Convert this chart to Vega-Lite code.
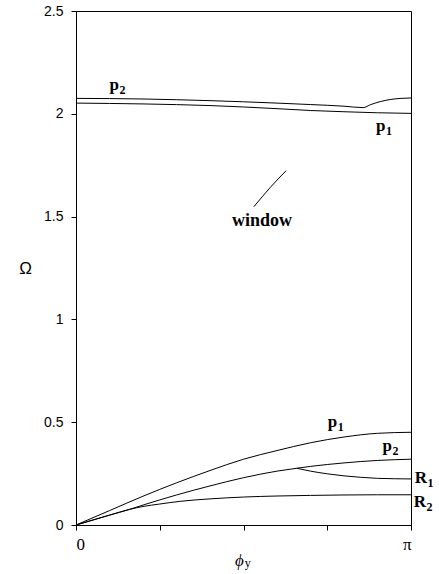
{
  "$schema": "https://vega.github.io/schema/vega-lite/v6.json",
  "width": 335,
  "height": 514,
  "autosize": {"type": "none"},
  "padding": {"left": 76, "top": 11, "right": 28, "bottom": 49},
  "background": "white",
  "config": {
    "view": {"stroke": "black", "strokeWidth": 1},
    "axis": {"grid": false, "domainColor": "black", "tickColor": "black", "labelColor": "black", "titleColor": "black"}
  },
  "datasets": {
    "curves": [
      {"branch": "p1_high", "phi": 0.0, "omega": 2.052},
      {"branch": "p1_high", "phi": 0.2, "omega": 2.048},
      {"branch": "p1_high", "phi": 0.4, "omega": 2.04},
      {"branch": "p1_high", "phi": 0.6, "omega": 2.025},
      {"branch": "p1_high", "phi": 0.7, "omega": 2.016},
      {"branch": "p1_high", "phi": 0.8, "omega": 2.01},
      {"branch": "p1_high", "phi": 0.9, "omega": 2.005},
      {"branch": "p1_high", "phi": 1.0, "omega": 2.002},
      {"branch": "p2_high", "phi": 0.0, "omega": 2.075},
      {"branch": "p2_high", "phi": 0.2, "omega": 2.072},
      {"branch": "p2_high", "phi": 0.4, "omega": 2.064},
      {"branch": "p2_high", "phi": 0.6, "omega": 2.052},
      {"branch": "p2_high", "phi": 0.7, "omega": 2.045},
      {"branch": "p2_high", "phi": 0.8, "omega": 2.037},
      {"branch": "p2_high", "phi": 0.857, "omega": 2.03},
      {"branch": "p2_high", "phi": 0.88, "omega": 2.045},
      {"branch": "p2_high", "phi": 0.91, "omega": 2.06},
      {"branch": "p2_high", "phi": 0.94, "omega": 2.07},
      {"branch": "p2_high", "phi": 0.97, "omega": 2.075},
      {"branch": "p2_high", "phi": 1.0, "omega": 2.077},
      {"branch": "window", "phi": 0.531, "omega": 1.548},
      {"branch": "window", "phi": 0.58, "omega": 1.642},
      {"branch": "window", "phi": 0.627, "omega": 1.723},
      {"branch": "p1", "phi": 0.0, "omega": 0.0},
      {"branch": "p1", "phi": 0.1, "omega": 0.07},
      {"branch": "p1", "phi": 0.2, "omega": 0.14},
      {"branch": "p1", "phi": 0.3, "omega": 0.205},
      {"branch": "p1", "phi": 0.4, "omega": 0.265},
      {"branch": "p1", "phi": 0.5, "omega": 0.32},
      {"branch": "p1", "phi": 0.6, "omega": 0.362},
      {"branch": "p1", "phi": 0.7, "omega": 0.4},
      {"branch": "p1", "phi": 0.8, "omega": 0.428},
      {"branch": "p1", "phi": 0.9, "omega": 0.446},
      {"branch": "p1", "phi": 1.0, "omega": 0.451},
      {"branch": "p2", "phi": 0.0, "omega": 0.0},
      {"branch": "p2", "phi": 0.1, "omega": 0.048},
      {"branch": "p2", "phi": 0.16, "omega": 0.076},
      {"branch": "p2", "phi": 0.2, "omega": 0.097},
      {"branch": "p2", "phi": 0.3, "omega": 0.146},
      {"branch": "p2", "phi": 0.4, "omega": 0.19},
      {"branch": "p2", "phi": 0.5, "omega": 0.23},
      {"branch": "p2", "phi": 0.6, "omega": 0.262},
      {"branch": "p2", "phi": 0.659, "omega": 0.276},
      {"branch": "p2", "phi": 0.7, "omega": 0.285},
      {"branch": "p2", "phi": 0.8, "omega": 0.302},
      {"branch": "p2", "phi": 0.9, "omega": 0.314},
      {"branch": "p2", "phi": 1.0, "omega": 0.32},
      {"branch": "R2", "phi": 0.0, "omega": 0.0},
      {"branch": "R2", "phi": 0.1, "omega": 0.048},
      {"branch": "R2", "phi": 0.16, "omega": 0.076},
      {"branch": "R2", "phi": 0.2, "omega": 0.09},
      {"branch": "R2", "phi": 0.25, "omega": 0.102},
      {"branch": "R2", "phi": 0.31, "omega": 0.115},
      {"branch": "R2", "phi": 0.4, "omega": 0.127},
      {"branch": "R2", "phi": 0.5, "omega": 0.136},
      {"branch": "R2", "phi": 0.6, "omega": 0.141},
      {"branch": "R2", "phi": 0.7, "omega": 0.144},
      {"branch": "R2", "phi": 0.8, "omega": 0.146},
      {"branch": "R2", "phi": 0.9, "omega": 0.147},
      {"branch": "R2", "phi": 1.0, "omega": 0.147},
      {"branch": "R1", "phi": 0.659, "omega": 0.276},
      {"branch": "R1", "phi": 0.7, "omega": 0.262},
      {"branch": "R1", "phi": 0.75, "omega": 0.249},
      {"branch": "R1", "phi": 0.8, "omega": 0.239},
      {"branch": "R1", "phi": 0.85, "omega": 0.232},
      {"branch": "R1", "phi": 0.9, "omega": 0.227},
      {"branch": "R1", "phi": 0.95, "omega": 0.225},
      {"branch": "R1", "phi": 1.0, "omega": 0.224}
    ],
    "labels": [
      {"base": "p", "sub": "2", "phi": 0.128, "omega": 2.116},
      {"base": "p", "sub": "1", "phi": 0.924, "omega": 1.916},
      {"base": "p", "sub": "1", "phi": 0.78, "omega": 0.477},
      {"base": "p", "sub": "2", "phi": 0.943, "omega": 0.36},
      {"base": "R", "sub": "1", "phi": 1.048, "omega": 0.204},
      {"base": "R", "sub": "2", "phi": 1.045, "omega": 0.0875}
    ],
    "words": [
      {"text": "window", "phi": 0.555, "omega": 1.479}
    ],
    "titleSub": [
      {"text": "y", "phi": 0.504, "omega": -0.185}
    ]
  },
  "layer": [
    {
      "data": {"name": "curves"},
      "mark": {"type": "line", "interpolate": "monotone", "color": "black"},
      "encoding": {
        "x": {
          "field": "phi", "type": "quantitative",
          "scale": {"domain": [0, 1], "nice": false, "zero": false},
          "axis": {
            "values": [0, 0.25, 0.5, 0.75, 1],
            "labelExpr": "datum.value == 0 ? '0' : (datum.value == 1 ? 'π' : '')",
            "labelFont": "Liberation Serif", "labelFontSize": 17,
            "tickSize": 5, "labelPadding": 6,
            "title": "ϕ", "titleFont": "Liberation Serif", "titleFontStyle": "italic",
            "titleFontWeight": "normal", "titleFontSize": 17,
            "titleX": 163, "titleY": 35, "titleAlign": "center", "titleBaseline": "middle"
          }
        },
        "y": {
          "field": "omega", "type": "quantitative",
          "scale": {"domain": [0, 2.5], "nice": false},
          "axis": {
            "values": [0, 0.5, 1, 1.5, 2, 2.5],
            "format": "~g",
            "labelFont": "Liberation Sans", "labelFontSize": 14,
            "tickSize": 5, "labelPadding": 8,
            "title": "Ω", "titleFont": "Liberation Sans", "titleFontWeight": "normal",
            "titleFontSize": 17, "titleAngle": 0,
            "titleX": -51, "titleY": 257, "titleAlign": "center", "titleBaseline": "middle"
          }
        },
        "detail": {"field": "branch"},
        "strokeWidth": {
          "field": "branch", "type": "nominal",
          "scale": {"domain": ["p1_high", "p2_high", "window", "p1", "p2", "R1", "R2"], "range": [1, 1, 1.3, 1, 1, 1.7, 1.7]},
          "legend": null
        }
      }
    },
    {
      "data": {"name": "labels"},
      "mark": {"type": "text", "font": "Liberation Serif", "fontWeight": "bold", "fontSize": 17, "color": "black", "align": "right", "baseline": "alphabetic"},
      "encoding": {
        "x": {"field": "phi", "type": "quantitative"},
        "y": {"field": "omega", "type": "quantitative"},
        "text": {"field": "base"}
      }
    },
    {
      "data": {"name": "labels"},
      "mark": {"type": "text", "font": "Liberation Serif", "fontWeight": "bold", "fontSize": 12, "color": "black", "align": "left", "baseline": "alphabetic", "dx": 0.5, "dy": 4},
      "encoding": {
        "x": {"field": "phi", "type": "quantitative"},
        "y": {"field": "omega", "type": "quantitative"},
        "text": {"field": "sub"}
      }
    },
    {
      "data": {"name": "words"},
      "mark": {"type": "text", "font": "Liberation Serif", "fontWeight": "bold", "fontSize": 18, "color": "black", "align": "center", "baseline": "middle"},
      "encoding": {
        "x": {"field": "phi", "type": "quantitative"},
        "y": {"field": "omega", "type": "quantitative"},
        "text": {"field": "text"}
      }
    },
    {
      "data": {"name": "titleSub"},
      "mark": {"type": "text", "font": "Liberation Serif", "fontSize": 12, "color": "black", "align": "left", "baseline": "middle"},
      "encoding": {
        "x": {"field": "phi", "type": "quantitative"},
        "y": {"field": "omega", "type": "quantitative"},
        "text": {"field": "text"}
      }
    }
  ]
}
